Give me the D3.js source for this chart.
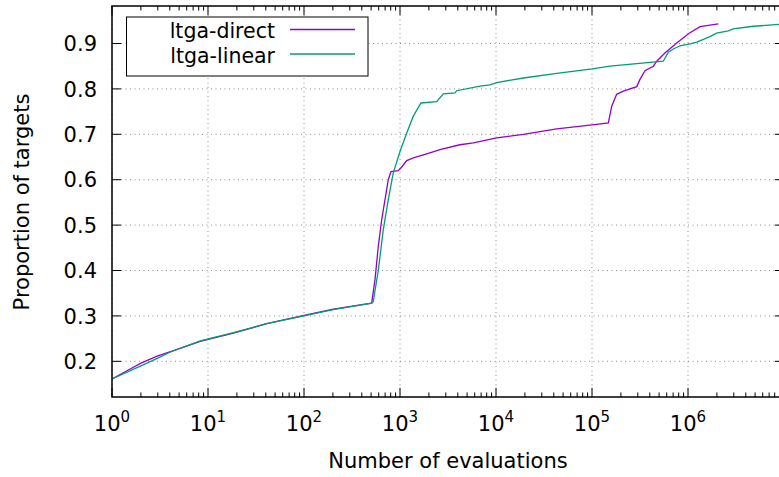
<!DOCTYPE html>
<html>
<head>
<meta charset="utf-8">
<script src="https://cdn.jsdelivr.net/npm/d3@7"></script>
<style>
  html, body { margin: 0; padding: 0; background: #fff; }
  svg { display: block; }
  text { font-family: "DejaVu Sans", sans-serif; fill: #000; }
</style>
</head>
<body>
<svg id="chart" width="779" height="477"></svg>
<script>
// ---------- data ----------
const seriesNames = ["ltga-direct", "ltga-linear"];
const seriesColors = ["#9400d3", "#009e73"];

const directEvals = [1, 1.67, 2, 3, 4, 8.3, 18.4, 40.9, 100, 202, 507, 549, 594, 645, 698, 755, 806, 960, 1042, 1175, 1376, 1897, 2610, 4217, 5800, 10170, 19240, 42850, 100700, 148000, 160400, 180700, 211900, 292200, 316200, 356500, 435300, 472200, 575400, 762500, 1020000, 1334000, 2070000];
const directProp  = [0.161, 0.187, 0.196, 0.212, 0.221, 0.244, 0.262, 0.283, 0.301, 0.315, 0.328, 0.38, 0.453, 0.512, 0.556, 0.6, 0.618, 0.62, 0.628, 0.642, 0.648, 0.657, 0.666, 0.677, 0.681, 0.692, 0.700, 0.712, 0.721, 0.725, 0.762, 0.788, 0.795, 0.805, 0.821, 0.84, 0.85, 0.861, 0.879, 0.901, 0.922, 0.937, 0.943];

const linearEvals = [1, 2, 3, 4, 8.3, 18.4, 40.9, 100, 202, 507, 527, 594, 670, 755, 851, 1000, 1175, 1376, 1655, 2411, 2826, 3741, 3894, 6813, 8660, 10170, 19240, 42850, 100700, 154000, 553000, 623600, 703000, 826000, 1050000, 1233000, 1694000, 1990000, 2630000, 2950000, 4790000, 8870000, 10000000];
const linearProp  = [0.161, 0.19, 0.207, 0.22, 0.245, 0.263, 0.283, 0.300, 0.314, 0.328, 0.332, 0.40, 0.49, 0.556, 0.615, 0.662, 0.703, 0.74, 0.769, 0.772, 0.789, 0.791, 0.796, 0.806, 0.809, 0.814, 0.824, 0.834, 0.844, 0.85, 0.861, 0.881, 0.888, 0.895, 0.899, 0.903, 0.915, 0.923, 0.928, 0.932, 0.938, 0.942, 0.942];

const xTickExps = [0, 1, 2, 3, 4, 5, 6, 7];
const xLabelExps = [0, 1, 2, 3, 4, 5, 6];
const yTicks = [0.2, 0.3, 0.4, 0.5, 0.6, 0.7, 0.8, 0.9];
const xTitle = "Number of evaluations";
const yTitle = "Proportion of targets";

// ---------- layout ----------
const L = 112, R = 784, T = 6, B = 397;
const FS = 21;
const svg = d3.select("#chart");

const x = d3.scaleLog().domain([1, 1e7]).range([L, R]);
const y = d3.scaleLinear().domain([0.1214, 0.9826]).range([B, T]);

// grid
const grid = svg.append("g").attr("stroke", "#8c8c8c").attr("stroke-width", 1).attr("stroke-dasharray", "1,3.5");
xTickExps.forEach(e => {
  const px = x(Math.pow(10, e));
  grid.append("line").attr("x1", px).attr("x2", px).attr("y1", T).attr("y2", B);
});
yTicks.forEach(v => {
  grid.append("line").attr("x1", L).attr("x2", R).attr("y1", y(v)).attr("y2", y(v));
});

// ticks
const ticks = svg.append("g").attr("stroke", "#000").attr("stroke-width", 1);
xTickExps.forEach(e => {
  const px = x(Math.pow(10, e));
  ticks.append("line").attr("x1", px).attr("x2", px).attr("y1", B).attr("y2", B - 9);
  ticks.append("line").attr("x1", px).attr("x2", px).attr("y1", T).attr("y2", T + 9);
  if (e < 7) {
    for (let m = 2; m <= 9; m++) {
      const mx = x(m * Math.pow(10, e));
      ticks.append("line").attr("x1", mx).attr("x2", mx).attr("y1", B).attr("y2", B - 4.5);
      ticks.append("line").attr("x1", mx).attr("x2", mx).attr("y1", T).attr("y2", T + 4.5);
    }
  }
});
yTicks.forEach(v => {
  ticks.append("line").attr("x1", L).attr("x2", L + 9).attr("y1", y(v)).attr("y2", y(v));
  ticks.append("line").attr("x1", R).attr("x2", R - 9).attr("y1", y(v)).attr("y2", y(v));
});

// tick labels
yTicks.forEach(v => {
  svg.append("text").attr("x", 97).attr("y", y(v) + 7.7).attr("text-anchor", "end")
    .attr("font-size", FS).text(d3.format(".1f")(v));
});
xLabelExps.forEach(e => {
  const t = svg.append("text").attr("x", x(Math.pow(10, e))).attr("y", 430.5)
    .attr("text-anchor", "middle").attr("font-size", FS);
  t.append("tspan").text("10");
  t.append("tspan").attr("dy", -8.5).attr("font-size", 15).text(String(e));
});

// axis titles
svg.append("text").attr("x", (L + R) / 2).attr("y", 468).attr("text-anchor", "middle")
  .attr("font-size", FS).text(xTitle);
svg.append("text").attr("transform", "translate(29,202) rotate(-90)").attr("text-anchor", "middle")
  .attr("font-size", FS).text(yTitle);

// curves
svg.append("clipPath").attr("id", "clip").append("rect")
  .attr("x", L).attr("y", T).attr("width", R - L).attr("height", B - T);
const line = d3.line().x(d => x(d[0])).y(d => y(d[1]));
const series = [
  directEvals.map((e, i) => [e, directProp[i]]),
  linearEvals.map((e, i) => [e, linearProp[i]])
];
series.forEach((s, i) => {
  svg.append("path").attr("d", line(s)).attr("fill", "none")
    .attr("stroke", seriesColors[i]).attr("stroke-width", 1.3)
    .attr("clip-path", "url(#clip)");
});

// border
svg.append("rect").attr("x", L).attr("y", T).attr("width", R - L).attr("height", B - T)
  .attr("fill", "none").attr("stroke", "#000").attr("stroke-width", 1.5);

// legend
const lg = svg.append("g");
lg.append("rect").attr("x", 126.5).attr("y", 17).attr("width", 241.5).attr("height", 59)
  .attr("fill", "#fff").attr("stroke", "#000").attr("stroke-width", 1);
seriesNames.forEach((n, i) => {
  const ly = 29.5 + i * 24.5;
  lg.append("text").attr("x", 275).attr("y", ly + 8.7).attr("text-anchor", "end")
    .attr("font-size", 20.5).text(n);
  lg.append("line").attr("x1", 290).attr("x2", 355).attr("y1", ly).attr("y2", ly)
    .attr("stroke", seriesColors[i]).attr("stroke-width", 1.3);
});
</script>
</body>
</html>
